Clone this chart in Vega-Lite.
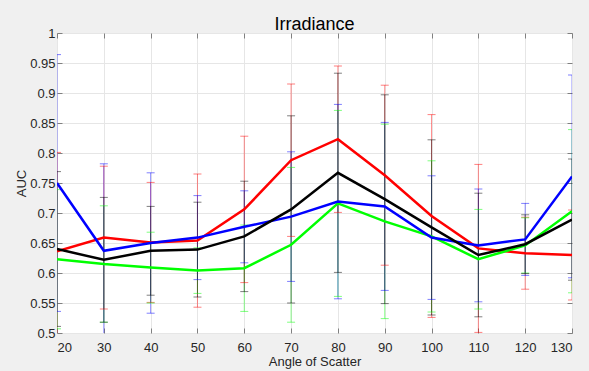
{
  "$schema": "https://vega.github.io/schema/vega-lite/v6.json",
  "width": 515,
  "height": 300,
  "autosize": "none",
  "padding": {"left": 57, "top": 33, "right": 17, "bottom": 38},
  "background": "#f0f0f0",
  "view": {"fill": "white", "stroke": "#808080", "strokeWidth": 1},
  "title": {"text": "Irradiance", "fontSize": 18, "fontWeight": "normal", "font": "Liberation Sans", "color": "#000000", "offset": -7},
  "config": {
    "font": "Liberation Sans",
    "axis": {"labelFont": "Liberation Sans", "titleFont": "Liberation Sans", "labelColor": "#262626", "titleColor": "#262626", "labelFontSize": 13, "titleFontSize": 13, "titleFontWeight": "normal", "domain": false, "tickColor": "#808080", "gridColor": "#e6e6e6", "gridOpacity": 1}
  },
  "data": {"values": [
    {"s":"red","x":20,"y":0.636,"lo":0.471,"hi":0.801},
    {"s":"red","x":30,"y":0.659,"lo":0.540,"hi":0.778},
    {"s":"red","x":40,"y":0.651,"lo":0.551,"hi":0.751},
    {"s":"red","x":50,"y":0.654,"lo":0.543,"hi":0.765},
    {"s":"red","x":60,"y":0.706,"lo":0.584,"hi":0.828},
    {"s":"red","x":70,"y":0.788,"lo":0.661,"hi":0.915},
    {"s":"red","x":80,"y":0.823,"lo":0.701,"hi":0.945},
    {"s":"red","x":90,"y":0.763,"lo":0.613,"hi":0.913},
    {"s":"red","x":100,"y":0.695,"lo":0.526,"hi":0.864},
    {"s":"red","x":110,"y":0.641,"lo":0.501,"hi":0.781},
    {"s":"red","x":120,"y":0.633,"lo":0.573,"hi":0.693},
    {"s":"red","x":130,"y":0.630,"lo":0.555,"hi":0.705},
    {"s":"green","x":20,"y":0.623,"lo":0.507,"hi":0.739},
    {"s":"green","x":30,"y":0.615,"lo":0.518,"hi":0.712},
    {"s":"green","x":40,"y":0.609,"lo":0.550,"hi":0.668},
    {"s":"green","x":50,"y":0.604,"lo":0.566,"hi":0.642},
    {"s":"green","x":60,"y":0.608,"lo":0.536,"hi":0.680},
    {"s":"green","x":70,"y":0.647,"lo":0.518,"hi":0.776},
    {"s":"green","x":80,"y":0.716,"lo":0.561,"hi":0.871},
    {"s":"green","x":90,"y":0.686,"lo":0.524,"hi":0.848},
    {"s":"green","x":100,"y":0.661,"lo":0.535,"hi":0.787},
    {"s":"green","x":110,"y":0.623,"lo":0.540,"hi":0.706},
    {"s":"green","x":120,"y":0.646,"lo":0.600,"hi":0.692},
    {"s":"green","x":130,"y":0.703,"lo":0.567,"hi":0.839},
    {"s":"blue","x":20,"y":0.750,"lo":0.536,"hi":0.964},
    {"s":"blue","x":30,"y":0.637,"lo":0.492,"hi":0.782},
    {"s":"blue","x":40,"y":0.650,"lo":0.533,"hi":0.767},
    {"s":"blue","x":50,"y":0.659,"lo":0.589,"hi":0.729},
    {"s":"blue","x":60,"y":0.677,"lo":0.617,"hi":0.737},
    {"s":"blue","x":70,"y":0.694,"lo":0.586,"hi":0.802},
    {"s":"blue","x":80,"y":0.719,"lo":0.557,"hi":0.881},
    {"s":"blue","x":90,"y":0.711,"lo":0.571,"hi":0.851},
    {"s":"blue","x":100,"y":0.659,"lo":0.556,"hi":0.762},
    {"s":"blue","x":110,"y":0.646,"lo":0.552,"hi":0.740},
    {"s":"blue","x":120,"y":0.656,"lo":0.596,"hi":0.716},
    {"s":"blue","x":130,"y":0.761,"lo":0.592,"hi":0.930},
    {"s":"black","x":20,"y":0.640,"lo":0.511,"hi":0.769},
    {"s":"black","x":30,"y":0.622,"lo":0.518,"hi":0.726},
    {"s":"black","x":40,"y":0.637,"lo":0.563,"hi":0.711},
    {"s":"black","x":50,"y":0.639,"lo":0.560,"hi":0.718},
    {"s":"black","x":60,"y":0.661,"lo":0.569,"hi":0.753},
    {"s":"black","x":70,"y":0.706,"lo":0.550,"hi":0.862},
    {"s":"black","x":80,"y":0.767,"lo":0.601,"hi":0.933},
    {"s":"black","x":90,"y":0.723,"lo":0.549,"hi":0.897},
    {"s":"black","x":100,"y":0.676,"lo":0.530,"hi":0.822},
    {"s":"black","x":110,"y":0.630,"lo":0.527,"hi":0.733},
    {"s":"black","x":120,"y":0.648,"lo":0.599,"hi":0.697},
    {"s":"black","x":130,"y":0.689,"lo":0.588,"hi":0.790}
  ]},
  "layer": [
    {
      "mark": {"type": "rule", "strokeWidth": 1, "opacity": 0.45, "clip": true},
      "encoding": {
        "x": {"field": "x", "type": "quantitative", "scale": {"domain": [20, 130], "nice": false, "zero": false},
              "axis": {"title": "Angle of Scatter", "values": [20,30,40,50,60,70,80,90,100,110,120,130], "grid": true, "tickSize": -5, "labelPadding": 13, "titlePadding": 1}},
        "y": {"field": "lo", "type": "quantitative", "scale": {"domain": [0.5, 1], "nice": false, "zero": false},
              "axis": {"title": "AUC", "values": [0.5,0.55,0.6,0.65,0.7,0.75,0.8,0.85,0.9,0.95,1], "format": "~g", "grid": true, "tickSize": -5, "labelPadding": 7, "titlePadding": 1}},
        "y2": {"field": "hi"},
        "color": {"field": "s", "type": "nominal", "scale": {"domain": ["red","green","blue","black"], "range": ["#ff0000","#00ff00","#0000ff","#000000"]}, "legend": null}
      }
    },
    {
      "mark": {"type": "tick", "orient": "horizontal", "size": 8, "thickness": 1, "opacity": 0.5, "clip": true},
      "encoding": {
        "x": {"field": "x", "type": "quantitative", "axis": null},
        "y": {"field": "lo", "type": "quantitative", "axis": null},
        "color": {"field": "s", "type": "nominal", "legend": null}
      }
    },
    {
      "mark": {"type": "tick", "orient": "horizontal", "size": 8, "thickness": 1, "opacity": 0.5, "clip": true},
      "encoding": {
        "x": {"field": "x", "type": "quantitative", "axis": null},
        "y": {"field": "hi", "type": "quantitative", "axis": null},
        "color": {"field": "s", "type": "nominal", "legend": null}
      }
    },
    {
      "mark": {"type": "line", "strokeWidth": 2.5, "clip": true},
      "encoding": {
        "x": {"field": "x", "type": "quantitative", "axis": null},
        "y": {"field": "y", "type": "quantitative", "axis": null},
        "color": {"field": "s", "type": "nominal", "legend": null},
        "order": {"field": "x", "type": "quantitative"}
      }
    },
    {
      "mark": {"type": "point", "opacity": 0},
      "encoding": {
        "x": {"field": "x", "type": "quantitative", "axis": {"orient": "top", "title": null, "labels": false, "grid": false, "tickSize": -5, "values": [20,30,40,50,60,70,80,90,100,110,120,130]}},
        "y": {"field": "y", "type": "quantitative", "axis": {"orient": "right", "title": null, "labels": false, "grid": false, "tickSize": -5, "values": [0.5,0.55,0.6,0.65,0.7,0.75,0.8,0.85,0.9,0.95,1]}}
      }
    }
  ],
  "resolve": {"axis": {"x": "independent", "y": "independent"}}
}
